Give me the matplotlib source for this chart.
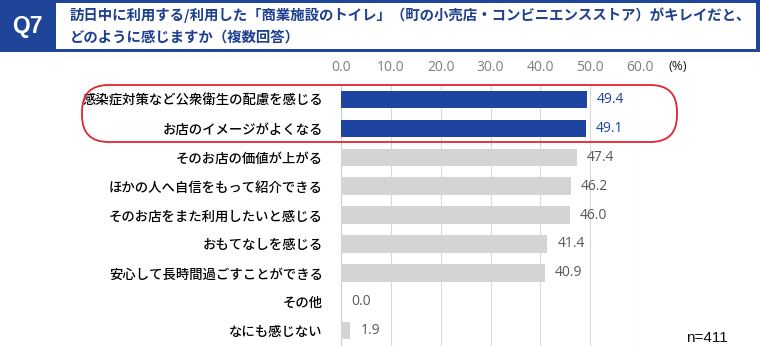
import numpy as np
import matplotlib
matplotlib.use('agg')
import matplotlib.pyplot as plt
from matplotlib.patches import Rectangle, FancyBboxPatch

plt.rcParams['font.family'] = ['Noto Sans CJK JP', 'DejaVu Sans']

# data
labels = ["感染症対策など公衆衛生の配慮を感じる", "お店のイメージがよくなる", "そのお店の価値が上がる",
          "ほかの人へ自信をもって紹介できる", "そのお店をまた利用したいと感じる", "おもてなしを感じる",
          "安心して長時間過ごすことができる", "その他", "なにも感じない"]
values = [49.4, 49.1, 47.4, 46.2, 46.0, 41.4, 40.9, 0.0, 1.9]
highlight = [True, True, False, False, False, False, False, False, False]
xticks = [0, 10, 20, 30, 40, 50, 60]

BLUE = '#1C44A0'
GRAY = '#D4D4D4'
TITLE_BLUE = '#1F3F8F'

W, H = 760, 346
fig = plt.figure(figsize=(W / 100, H / 100), dpi=100)

# header
fig.patches.append(Rectangle((0, 1 - 52 / H), 1, 52 / H, transform=fig.transFigure,
                             facecolor='#1E4597', edgecolor='none'))
fig.patches.append(Rectangle((56 / W, 1 - 49 / H), 700 / W, 46 / H, transform=fig.transFigure,
                             facecolor='white', edgecolor='none'))
fig.text(27 / W, 1 - 27 / H, "Q7", color='white', fontsize=16.5, fontweight='bold',
         family=['Liberation Sans', 'DejaVu Sans'], ha='center', va='center')
fig.text(70 / W, 1 - 15 / H,
         "訪日中に利用する/利用した「商業施設のトイレ」（町の小売店・コンビニエンスストア）がキレイだと、",
         color=TITLE_BLUE, fontsize=10.4, fontweight='bold', ha='left', va='center')
fig.text(70 / W, 1 - 38 / H, "どのように感じますか（複数回答）",
         color=TITLE_BLUE, fontsize=10.4, fontweight='bold', ha='left', va='center')

# axes
ax = fig.add_axes([341 / W, 0, (640 - 341) / W, (346 - 85) / H])
y = np.arange(len(labels))
colors = [BLUE if h else GRAY for h in highlight]
ax.barh(y, values, height=0.6, color=colors, zorder=3)
ax.set_xlim(0, 60)
ax.set_ylim(8.53, -0.5)
ax.set_xticks(xticks)
ax.set_xticklabels([f"{t:.1f}" for t in xticks], color='#7F7F7F', fontsize=10,
                   family=['Open Sans', 'DejaVu Sans'])
ax.xaxis.tick_top()
ax.tick_params(axis='x', length=0, pad=7)
ax.grid(axis='x', color='#D9D9D9', linewidth=0.8, zorder=0)
ax.set_yticks(y)
ax.set_yticklabels(labels, fontsize=9.6, color='#000000', fontweight='medium')
ax.tick_params(axis='y', length=0, pad=13)
for s in ['top', 'right', 'bottom']:
    ax.spines[s].set_visible(False)
ax.spines['left'].set_color('#D0D0D0')

for yi, v, h in zip(y, values, highlight):
    ax.text(v + 2, yi, f"{v:.1f}", va='center', ha='left', fontsize=10,
            color=BLUE if h else '#595959', family=['Open Sans', 'DejaVu Sans'])

fig.text(678 / W, 1 - 67 / H, "(%)", fontsize=9.5, color='#222222', ha='center', va='center',
         family=['Open Sans', 'DejaVu Sans'])
fig.text(707 / W, 1 - 338 / H, "n=411", fontsize=11, color='#111111', ha='center', va='center',
         family=['Liberation Sans', 'DejaVu Sans'])

# red rounded frame around highlighted items
fig.patches.append(FancyBboxPatch((82 / W, 1 - 142 / H), (677 - 82) / W, (142 - 85) / H,
                                  boxstyle="round,pad=0,rounding_size=0.035",
                                  transform=fig.transFigure, facecolor='none',
                                  edgecolor='#E0252F', linewidth=1.3, mutation_aspect=W / H))

fig.savefig("out.png", dpi=100)
